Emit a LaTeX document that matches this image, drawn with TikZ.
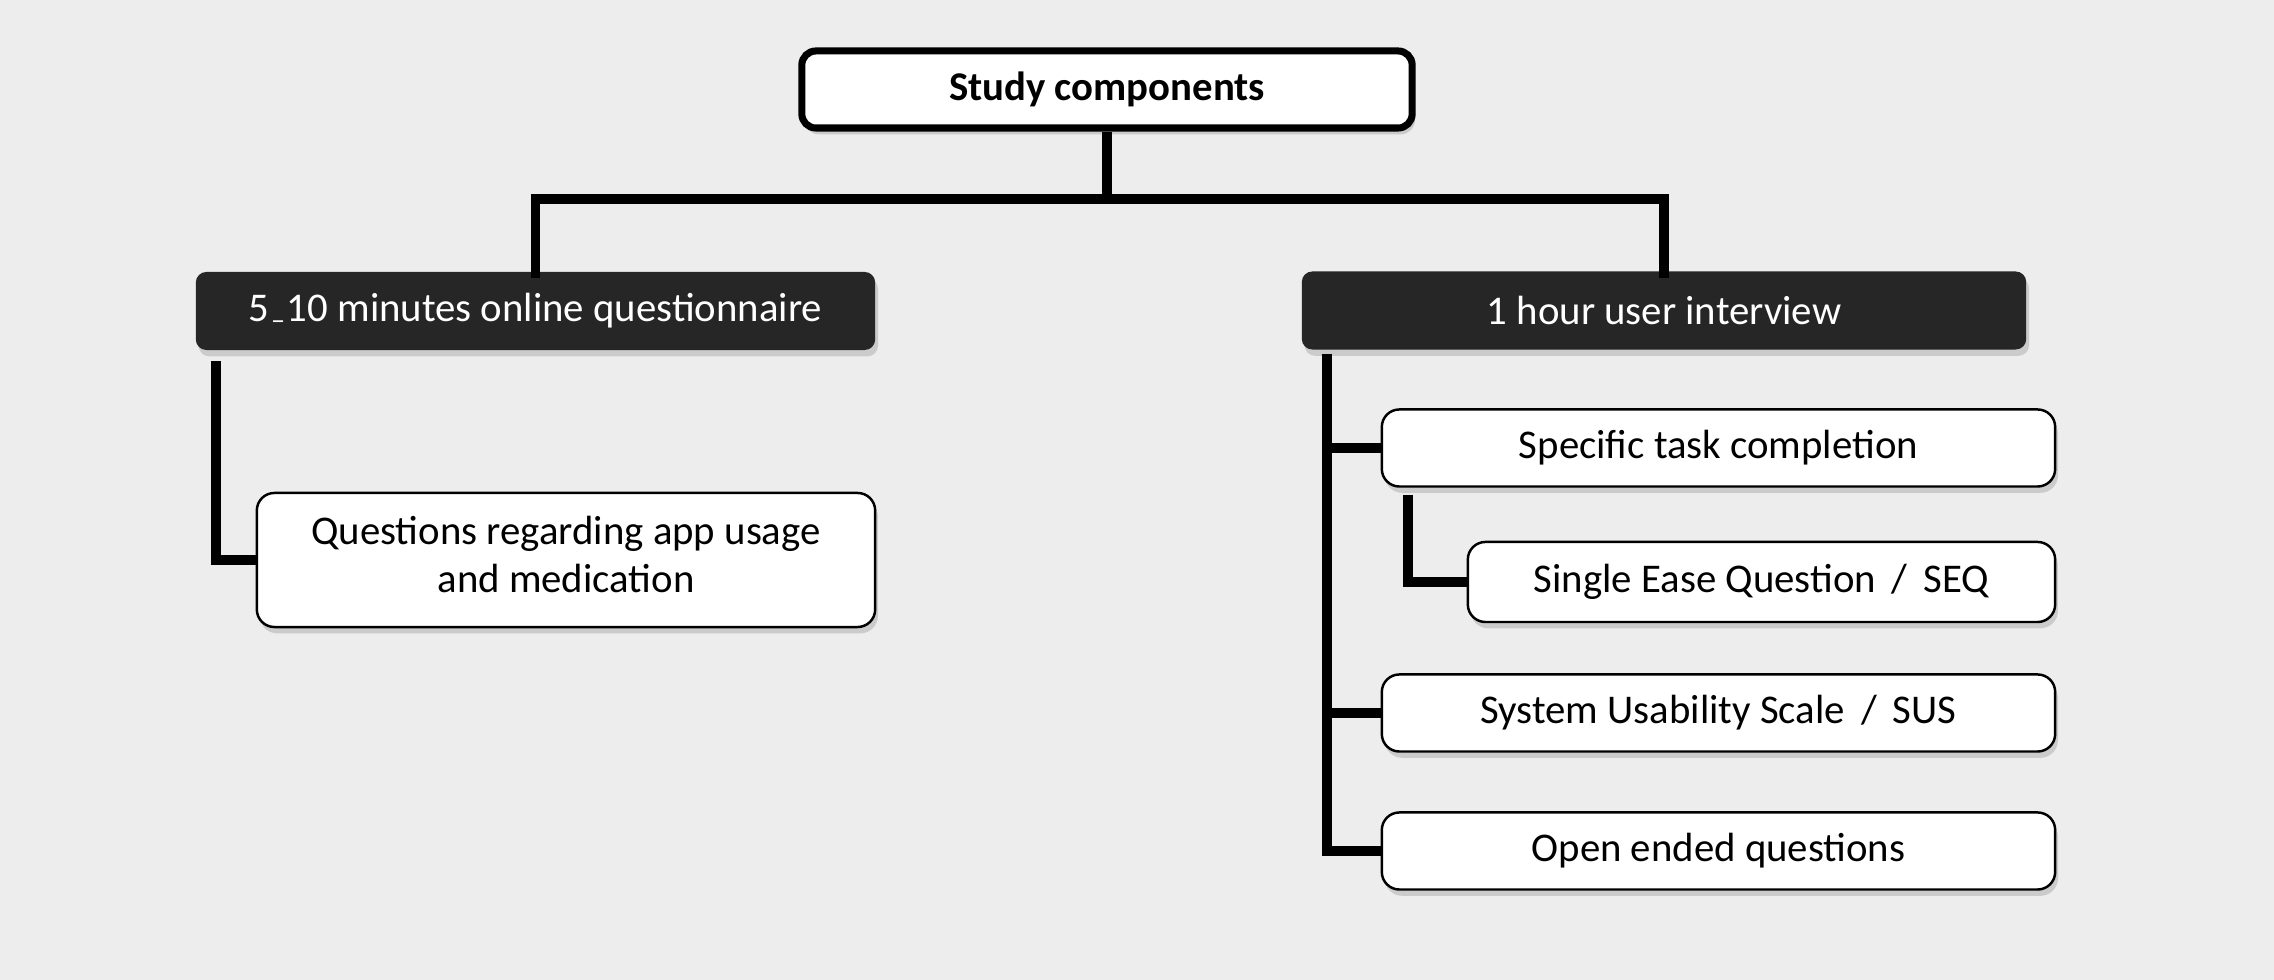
\documentclass[tikz,border=0pt]{standalone}
\usepackage{fontspec}
\setmainfont{Carlito}
\usetikzlibrary{shadows}
\definecolor{bgc}{HTML}{EDEDED}
\definecolor{darkc}{HTML}{262626}
\begin{document}
\begin{tikzpicture}[x=0.01cm,y=-0.01cm,
  every node/.style={inner sep=0pt, font=\fontsize{11.6}{13.7}\selectfont},
  shad/.style={drop shadow={shadow xshift=0.8pt, shadow yshift=-1.8pt, opacity=0.14, fill=black}},
  topbox/.style={draw=black, line width=2pt, fill=white, rounded corners=4pt, minimum width=6.1cm, minimum height=0.77cm, shad, font=\fontsize{11.6}{13.7}\selectfont\bfseries},
  darkbox/.style={fill=darkc, text=white, rounded corners=3pt, minimum height=0.78cm, shad},
  leafbox/.style={draw=black, line width=0.7pt, fill=white, rounded corners=5pt, minimum height=0.77cm, shad, align=center},
  conn/.style={line width=2.6pt, line cap=butt, line join=miter}]
\useasboundingbox (0,0) rectangle (2274,980);
\fill[bgc] (0,0) rectangle (2274,980);

\node[topbox] (top) at (1107,89.5) {Study components};
\node[darkbox, minimum width=6.79cm] (oq) at (535.5,311) {5\kern0.5pt\raisebox{-0.4ex}{\footnotesize –}\kern0.5pt10 minutes online questionnaire};
\node[darkbox, minimum width=7.24cm] (ui) at (1664,310.5) {1 hour user interview};

\node[leafbox, minimum width=6.18cm, minimum height=1.34cm] (qa) at (566,560) {\raisebox{3pt}{Questions regarding app usage}\\\raisebox{3pt}{and medication}};
\node[leafbox, minimum width=6.73cm] (stc) at (1718.5,448) {Specific task completion};
\node[leafbox, minimum width=5.87cm, minimum height=0.8cm] (seq) at (1761.5,582) {Single Ease Question \,/\, SEQ};
\node[leafbox, minimum width=6.73cm] (sus) at (1718.5,713) {System Usability Scale \,/\, SUS};
\node[leafbox, minimum width=6.73cm] (oeq) at (1718.5,851) {Open ended questions};

\coordinate (j) at (1107,199);
\coordinate (lt) at (216,0);
\coordinate (rt) at (1327,0);
\coordinate (st) at (1408,0);

\draw[conn] (top.south) -- (j);
\draw[conn] (j) -| ([yshift=-2pt]oq.north);
\draw[conn] (j) -| ([yshift=-2pt]ui.north);
\draw[conn] ([yshift=-3pt]oq.south -| lt) |- (qa.west);
\draw[conn] ([yshift=-1pt]ui.south -| rt) |- (oeq.west);
\draw[conn] (stc.west -| rt) -- (stc.west);
\draw[conn] (sus.west -| rt) -- (sus.west);
\draw[conn] ([yshift=-2pt]stc.south -| st) |- (seq.west);
\end{tikzpicture}
\end{document}
